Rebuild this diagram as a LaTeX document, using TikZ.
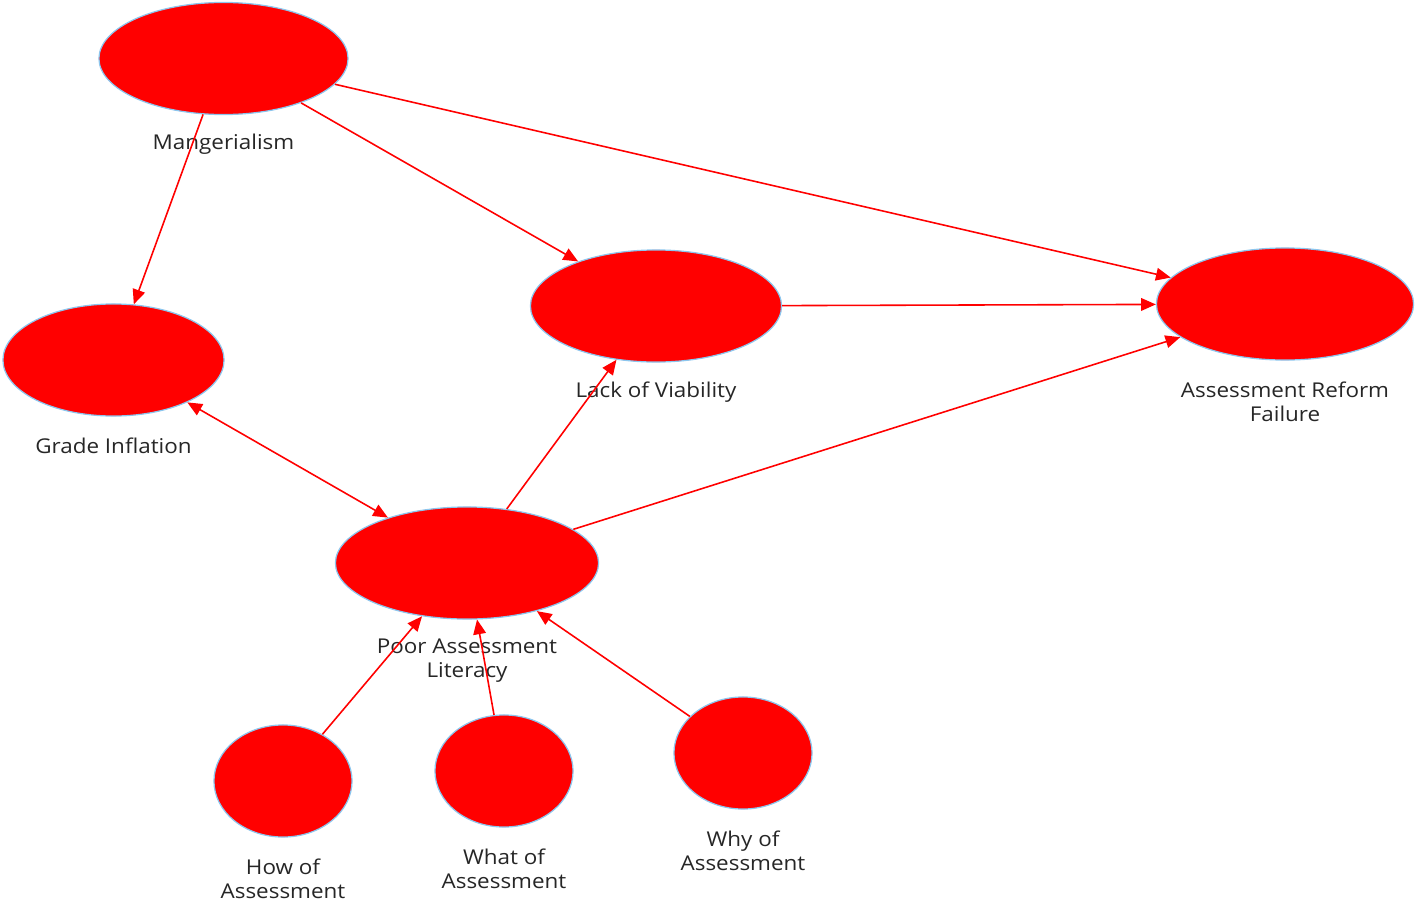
\documentclass[tikz,border=0pt]{standalone}
\usepackage{fontspec}
\setmainfont{Open Sans}[FakeStretch=1.1]
\usetikzlibrary{shapes.geometric,arrows.meta}
\definecolor{nodered}{HTML}{FF0000}
\definecolor{rim}{HTML}{8CC6EE}
\definecolor{txt}{HTML}{262626}
\tikzset{
  bub/.style={ellipse, fill=nodered, draw=rim, line width=0.35pt, inner sep=0pt, minimum height=1.12cm},
  lbl/.style={text=txt, align=center, inner sep=0pt, font=\fontsize{5.8pt}{6.8pt}\selectfont},
  edge/.style={draw=nodered, line width=0.45pt, -{Triangle[length=4.2pt,width=3.6pt]}},
  bedge/.style={draw=nodered, line width=0.45pt, {Triangle[length=4.2pt,width=3.6pt]}-{Triangle[length=4.2pt,width=3.6pt]}}
}
\begin{document}
\begin{tikzpicture}[x=0.01cm,y=-0.01cm]
\useasboundingbox (0,0) rectangle (1418,900);
% nodes
\node[bub, minimum width=2.49cm] (man) at (223.5,58.5) {};
\node[bub, minimum width=2.21cm] (gra) at (113.5,360) {};
\node[bub, minimum width=2.51cm] (lac) at (656,306) {};
\node[bub, minimum width=2.57cm] (arf) at (1285,304) {};
\node[bub, minimum width=2.63cm] (poo) at (467,563) {};
\node[bub, minimum width=1.38cm] (how) at (283,781) {};
\node[bub, minimum width=1.38cm] (wha) at (504,771) {};
\node[bub, minimum width=1.38cm] (why) at (743,753) {};
% labels
\node[lbl] (manl) at (223.5,144) {Mangerialism};
\node[lbl] (gral) at (113.5,446) {Grade Inflation};
\node[lbl] (lacl) at (656,392) {Lack of Viability};
\node[lbl] (arfl) at (1285,402) {Assessment Reform\\Failure};
\node[lbl] (pool) at (467,661) {Poor Assessment\\Literacy};
\node[lbl] (howl) at (283,879) {How of\\Assessment};
\node[lbl] (whal) at (504,869) {What of\\Assessment};
\node[lbl] (whyl) at (743,851) {Why of\\Assessment};
% edges
\draw[edge] (man) -- (gra);
\draw[edge] (man) -- (lac);
\draw[edge] (man) -- (arf);
\draw[edge] (lac) -- (arf);
\draw[bedge] (gra) -- (poo);
\draw[edge] (poo) -- (lac);
\draw[edge] (poo) -- (arf);
\draw[edge] (how) -- (poo);
\draw[edge] (wha) -- (poo);
\draw[edge] (why) -- (poo);
\end{tikzpicture}
\end{document}
